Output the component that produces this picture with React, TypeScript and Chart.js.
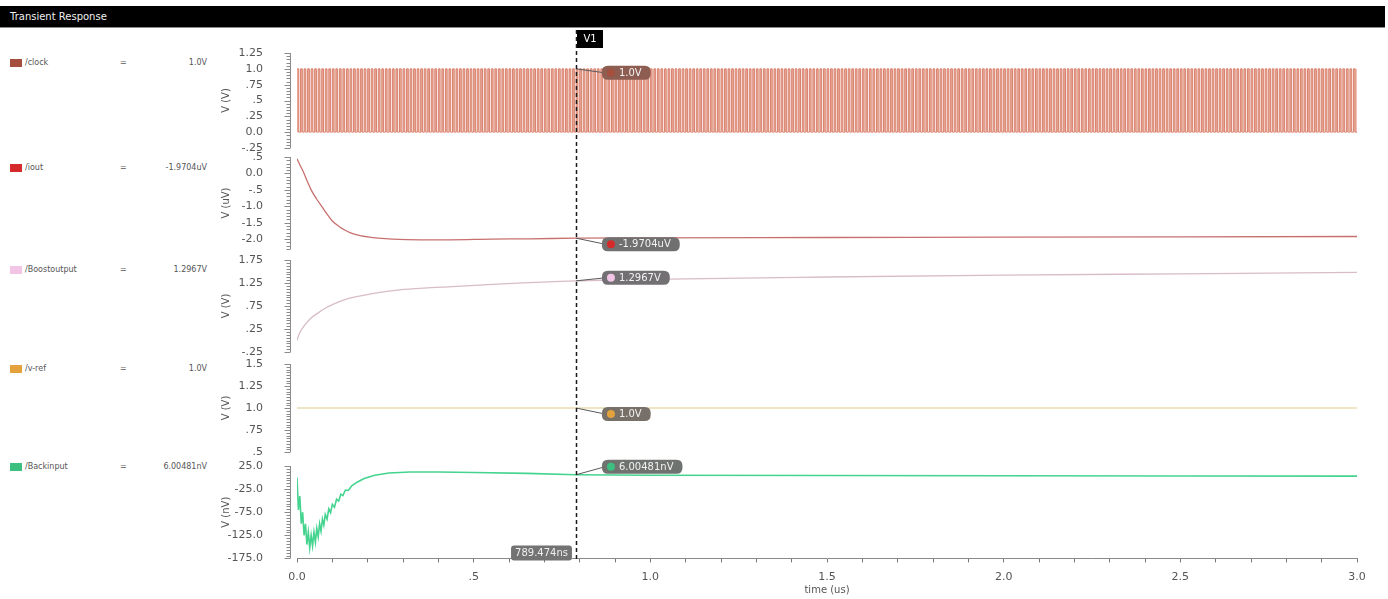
import React, { useEffect, useRef } from "react";
import { Chart, registerables } from "chart.js";

Chart.register(...registerables);
Chart.defaults.font.family = '"DejaVu Sans", sans-serif';

// ---------------- data ----------------
const timeStartUs = 0;
const timeEndUs = 3.0;
const cursorTimeUs = 0.789474;
const cursorTimeLabel = "789.474ns";
const cursorName = "V1";
const headerTitle = "Transient Response";
const xAxisTitle = "time (us)";

const clockPeriodUs = 0.01;
const clockPattern = [1, 0];

const ioutTimeUs = [0, 0.005, 0.01, 0.02, 0.03, 0.04, 0.055, 0.07, 0.085, 0.1, 0.12, 0.135, 0.15, 0.17, 0.2, 0.23, 0.27, 0.35, 0.43, 0.55, 0.66, 0.79, 1.0, 1.5, 2.0, 2.5, 3.0];
const ioutMicroVolts = [0.45, 0.33, 0.22, 0.0, -0.26, -0.5, -0.77, -1.0, -1.24, -1.45, -1.62, -1.72, -1.8, -1.87, -1.93, -1.97, -2.0, -2.02, -2.02, -2.0, -1.99, -1.97, -1.96, -1.95, -1.94, -1.93, -1.92];

const boostTimeUs = [0, 0.005, 0.01, 0.02, 0.04, 0.06, 0.08, 0.1, 0.14, 0.18, 0.23, 0.29, 0.36, 0.44, 0.58, 0.79, 1.0, 1.5, 2.0, 2.5, 3.0];
const boostVolts = [0.0, 0.12, 0.2, 0.32, 0.49, 0.6, 0.7, 0.78, 0.9, 0.97, 1.04, 1.1, 1.14, 1.17, 1.23, 1.297, 1.33, 1.38, 1.42, 1.45, 1.48];

const vrefTimeUs = [0, 3.0];
const vrefVolts = [1.0, 1.0];

const feedbackTimeUs = [0, 0.004, 0.008, 0.012, 0.016, 0.02, 0.024, 0.028, 0.032, 0.036, 0.04, 0.044, 0.048, 0.052, 0.056, 0.06, 0.064, 0.068, 0.072, 0.076, 0.08, 0.085, 0.09, 0.095, 0.1, 0.106, 0.112, 0.118, 0.124, 0.13, 0.137, 0.145, 0.155, 0.17, 0.19, 0.22, 0.26, 0.32, 0.4, 0.5, 0.65, 0.79, 1.0, 1.5, 2.0, 2.5, 3.0];
const feedbackNanoVolts = [0, -70, -40, -100, -75, -125, -100, -145, -118, -152, -125, -148, -118, -140, -110, -128, -100, -116, -90, -103, -80, -90, -68, -76, -58, -64, -47, -51, -36, -39, -27, -28, -18, -10, -2, 5, 10, 12, 12, 11, 9, 6, 5, 4.5, 4, 3.5, 3];

const seriesNames = ["/clock", "/iout", "/Boostoutput", "/v-ref", "/Backinput"];
const seriesValueLabels = ["1.0V", "-1.9704uV", "1.2967V", "1.0V", "6.00481nV"];
const cursorValues = [1.0, -1.9704, 1.2967, 1.0, 6.00481];
const axisTitles = ["V (V)", "V (uV)", "V (V)", "V (V)", "V (nV)"];

const yMins = [-0.25, -2.3, -0.25, 0.5, -175];
const yMaxs = [1.25, 0.5, 1.75, 1.5, 25];
const yTickValues = [
  [1.25, 1.0, 0.75, 0.5, 0.25, 0.0, -0.25],
  [0.5, 0.0, -0.5, -1.0, -1.5, -2.0],
  [1.75, 1.25, 0.75, 0.25, -0.25],
  [1.5, 1.25, 1.0, 0.75, 0.5],
  [25, -25, -75, -125, -175],
];
const yTickLabels = [
  ["1.25", "1.0", ".75", ".5", ".25", "0.0", "-.25"],
  [".5", "0.0", "-.5", "-1.0", "-1.5", "-2.0"],
  ["1.75", "1.25", ".75", ".25", "-.25"],
  ["1.5", "1.25", "1.0", ".75", ".5"],
  ["25.0", "-25.0", "-75.0", "-125.0", "-175.0"],
];
const xTickValues = [0, 0.5, 1.0, 1.5, 2.0, 2.5, 3.0];
const xTickLabels = ["0.0", ".5", "1.0", "1.5", "2.0", "2.5", "3.0"];

// ---------------- styles / layout ----------------
const W = 1388;
const H = 599;
const yAxisLeft = 216;
const plotLeft = 297;
const plotRight = 1357;
const xAxisHeight = 38;
const panelTops = [53, 157, 260, 364, 466];
const panelBottoms = [148, 249, 352, 452, 561];
const rulerDivisions = [5, 5, 8, 8, 8];
const swatchColors = ["#a5503e", "#d42a2a", "#f2c4e6", "#e3a23c", "#3cbf7f"];
const lineColors = ["#d98470", "#c8706e", "#d8bcc9", "#eadcb2", "#45d48f"];
const fillColors = ["rgba(232,152,132,0.85)", "", "", "", ""];
const lineWidths = [1, 1.3, 1.3, 1.6, 1.6];
const boxColors = ["#8d5d52", "#707070", "#737073", "#767068", "#6f7370"];
const markerDy = [4, 6, -3, 6, -8];
const legendRowY = [63, 168, 270, 369, 467];

function buildClock() {
  const pts: { x: number; y: number }[] = [];
  const half = clockPeriodUs / clockPattern.length;
  const n = Math.round((timeEndUs - timeStartUs) / half);
  for (let k = 0; k <= n; k++) {
    pts.push({ x: timeStartUs + k * half, y: clockPattern[k % clockPattern.length] });
  }
  return pts;
}

function zipPoints(xs: number[], ys: number[]) {
  return xs.map((x, i) => ({ x, y: ys[i] }));
}

function roundRect(ctx: CanvasRenderingContext2D, x: number, y: number, w: number, h: number, r: number) {
  ctx.beginPath();
  ctx.moveTo(x + r, y);
  ctx.lineTo(x + w - r, y);
  ctx.quadraticCurveTo(x + w, y, x + w, y + r);
  ctx.lineTo(x + w, y + h - r);
  ctx.quadraticCurveTo(x + w, y + h, x + w - r, y + h);
  ctx.lineTo(x + r, y + h);
  ctx.quadraticCurveTo(x, y + h, x, y + h - r);
  ctx.lineTo(x, y + r);
  ctx.quadraticCurveTo(x, y, x + r, y);
  ctx.closePath();
}

function panelPlugin(i: number, isLast: boolean) {
  return {
    id: "panel" + i,
    afterDraw(chart: any) {
      const ctx: CanvasRenderingContext2D = chart.ctx;
      const ys = chart.scales.y;
      const xs = chart.scales.x;
      const { top, bottom, left } = chart.chartArea;
      ctx.save();
      // ruler
      const rx = left - 6.5;
      ctx.strokeStyle = "#8a8a8a";
      ctx.lineWidth = 1;
      ctx.beginPath();
      ctx.moveTo(rx, top);
      ctx.lineTo(rx, bottom);
      ctx.stroke();
      const ticks = yTickValues[i];
      const step = Math.abs(ticks[0] - ticks[1]) / rulerDivisions[i];
      const n = Math.round((ys.max - ys.min) / step);
      ctx.beginPath();
      for (let k = 0; k <= n; k++) {
        const v = ys.min + k * step;
        const y = Math.round(ys.getPixelForValue(v)) + 0.5;
        const major = ticks.some((t) => Math.abs(t - v) < step * 0.01);
        ctx.moveTo(rx, y);
        ctx.lineTo(rx - (major ? 6 : 4), y);
      }
      ctx.stroke();

      // cursor marker
      const cx = xs.getPixelForValue(cursorTimeUs);
      const py = ys.getPixelForValue(cursorValues[i]);
      const by = py + markerDy[i];
      ctx.font = '10px "DejaVu Sans", sans-serif';
      const label = seriesValueLabels[i];
      const tw = ctx.measureText(label).width;
      const bx = cx + 26;
      const bw = tw + 26;
      const bh = 14;
      ctx.strokeStyle = "#5a5a5a";
      ctx.lineWidth = 1;
      ctx.beginPath();
      ctx.moveTo(cx, py);
      ctx.lineTo(bx + 3, by);
      ctx.stroke();
      ctx.fillStyle = boxColors[i];
      roundRect(ctx, bx, by - bh / 2, bw, bh, 6);
      ctx.fill();
      ctx.fillStyle = swatchColors[i];
      ctx.beginPath();
      ctx.arc(bx + 9, by, 4, 0, Math.PI * 2);
      ctx.fill();
      ctx.fillStyle = "#f2f2f2";
      ctx.textAlign = "left";
      ctx.textBaseline = "middle";
      ctx.fillText(label, bx + 17, by + 0.5);

      if (isLast) {
        // dashed cursor line
        ctx.strokeStyle = "#1a1a1a";
        ctx.lineWidth = 1.5;
        ctx.setLineDash([4, 3]);
        ctx.beginPath();
        ctx.moveTo(Math.round(cx) + 0.5, 30);
        ctx.lineTo(Math.round(cx) + 0.5, bottom + 2);
        ctx.stroke();
        ctx.setLineDash([]);
        // V1 box
        ctx.fillStyle = "#000";
        ctx.fillRect(Math.round(cx) + 1, 30, 26, 18);
        ctx.fillStyle = "#fff";
        ctx.font = '10px "DejaVu Sans", sans-serif';
        ctx.textAlign = "center";
        ctx.fillText(cursorName, Math.round(cx) + 14, 39.5);
        // time label
        ctx.font = '10px "DejaVu Sans", sans-serif';
        const ttw = ctx.measureText(cursorTimeLabel).width;
        const tbw = ttw + 8;
        ctx.fillStyle = "#737373";
        roundRect(ctx, cx - 4 - tbw, bottom - 13, tbw, 15, 3);
        ctx.fill();
        ctx.fillStyle = "#f0f0f0";
        ctx.textAlign = "center";
        ctx.fillText(cursorTimeLabel, cx - 4 - tbw / 2, bottom - 5);
      }
      ctx.restore();
    },
  };
}

export default function App() {
  const refs = [useRef<HTMLCanvasElement>(null), useRef<HTMLCanvasElement>(null), useRef<HTMLCanvasElement>(null), useRef<HTMLCanvasElement>(null), useRef<HTMLCanvasElement>(null)];

  useEffect(() => {
    const seriesData = [
      buildClock(),
      zipPoints(ioutTimeUs, ioutMicroVolts),
      zipPoints(boostTimeUs, boostVolts),
      zipPoints(vrefTimeUs, vrefVolts),
      zipPoints(feedbackTimeUs, feedbackNanoVolts),
    ];
    const charts: Chart[] = [];
    for (let i = 0; i < 5; i++) {
      const canvas = refs[i].current;
      if (!canvas) continue;
      const isLast = i === 4;
      const chart = new Chart(canvas, {
        type: "line",
        data: {
          datasets: [
            {
              data: seriesData[i],
              borderColor: lineColors[i],
              borderWidth: lineWidths[i],
              backgroundColor: fillColors[i] || lineColors[i],
              pointRadius: 0,
              fill: fillColors[i] ? { target: { value: 0 } } : false,
              tension: i === 0 || i === 4 ? 0 : 0.3,
              cubicInterpolationMode: i === 0 || i === 4 ? "default" : "monotone",
              stepped: i === 0 ? "before" : false,
            } as any,
          ],
        },
        options: {
          responsive: false,
          animation: false,
          events: [],
          plugins: { legend: { display: false }, tooltip: { enabled: false } },
          layout: {
            padding: {
              left: yAxisLeft,
              right: W - plotRight,
              top: panelTops[i],
              bottom: H - panelBottoms[i] - (isLast ? xAxisHeight : 0),
            },
          },
          scales: {
            x: {
              type: "linear",
              min: timeStartUs,
              max: timeEndUs,
              display: isLast,
              afterFit: (s: any) => {
                s.height = isLast ? xAxisHeight : 0;
              },
              ticks: {
                stepSize: 0.1,
                autoSkip: false,
                maxRotation: 0,
                padding: 8,
                color: "#555",
                font: { size: 11 },
                callback: (v: any) => {
                  const idx = xTickValues.findIndex((t) => Math.abs(t - Number(v)) < 1e-6);
                  return idx >= 0 ? xTickLabels[idx] : "";
                },
              },
              grid: { drawOnChartArea: false, tickLength: 4, color: "#777" },
              border: { color: "#8a8a8a" },
              title: {
                display: true,
                text: xAxisTitle,
                color: "#555",
                font: { size: 10 },
                padding: { top: 0, bottom: 0 },
              },
            },
            y: {
              type: "linear",
              min: yMins[i],
              max: yMaxs[i],
              afterFit: (s: any) => {
                s.width = plotLeft - yAxisLeft;
              },
              afterBuildTicks: (s: any) => {
                s.ticks = yTickValues[i].map((v) => ({ value: v }));
              },
              ticks: {
                autoSkip: false,
                padding: 34,
                color: "#555",
                font: { size: 11 },
                callback: (_v: any, idx: number) => yTickLabels[i][idx],
              },
              grid: { display: false, drawTicks: false },
              border: { display: false },
              title: {
                display: true,
                text: axisTitles[i],
                color: "#555",
                font: { size: 10 },
                padding: { top: 4, bottom: 0 },
              },
            },
          },
        },
        plugins: [panelPlugin(i, isLast)],
      } as any);
      charts.push(chart);
    }
    return () => {
      charts.forEach((c) => c.destroy());
    };
  }, []);

  const textStyle: React.CSSProperties = {
    position: "absolute",
    fontSize: 8,
    fontFamily: '"DejaVu Sans", sans-serif',
    color: "#555",
    lineHeight: "10px",
    whiteSpace: "nowrap",
  };

  return (
    <div style={{ position: "absolute", left: 0, top: 0, width: W, height: H, background: "#fff", overflow: "hidden" }}>
      <div
        style={{
          position: "absolute",
          left: 0,
          top: 6,
          width: 1385,
          height: 22,
          background: "#000",
          borderBottom: "1px solid #8a8a8a",
          color: "#f0f0f0",
          fontFamily: '"DejaVu Sans", sans-serif',
          fontSize: 10,
          lineHeight: "22px",
          paddingLeft: 10,
          boxSizing: "border-box",
        }}
      >
        {headerTitle}
      </div>
      {seriesNames.map((name, i) => (
        <React.Fragment key={name}>
          <div
            style={{
              position: "absolute",
              left: 10,
              top: legendRowY[i] - 4,
              width: 12,
              height: 8,
              background: swatchColors[i],
            }}
          />
          <div style={{ ...textStyle, left: 25, top: legendRowY[i] - 5 }}>{name}</div>
          <div style={{ ...textStyle, left: 120, top: legendRowY[i] - 5 }}>=</div>
          <div style={{ ...textStyle, right: W - 207, top: legendRowY[i] - 5, textAlign: "right" }}>
            {seriesValueLabels[i]}
          </div>
        </React.Fragment>
      ))}
      {refs.map((r, i) => (
        <canvas
          key={i}
          ref={r}
          width={W}
          height={H}
          style={{ position: "absolute", left: 0, top: 0, width: W, height: H }}
        />
      ))}
    </div>
  );
}
